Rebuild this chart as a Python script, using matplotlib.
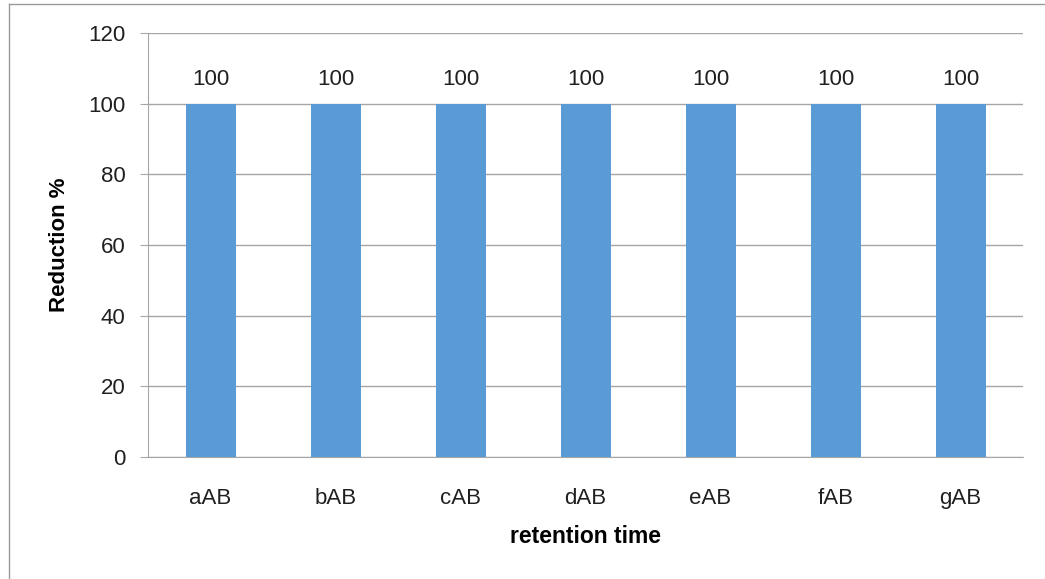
import matplotlib
matplotlib.use("Agg")
import matplotlib.pyplot as plt
from matplotlib.lines import Line2D

categories = ["aAB", "bAB", "cAB", "dAB", "eAB", "fAB", "gAB"]
reduction = [100, 100, 100, 100, 100, 100, 100]
y_ticks = [0, 20, 40, 60, 80, 100, 120]

plt.rcParams["font.family"] = ["Liberation Sans", "DejaVu Sans"]

fig = plt.figure(figsize=(10.45, 5.79), dpi=100, facecolor="white")
ax = fig.add_axes([148 / 1045, 1 - 457 / 579, 875 / 1045, 424 / 579])

grid_col = "#a6a6a6"
text_col = "#202020"
x = list(range(len(categories)))
ax.bar(x, reduction, width=0.4, color="#5b9bd5", zorder=3)

for xi, v in zip(x, reduction):
    ax.annotate(f"{v}", (xi, v), xytext=(0, 13.5), textcoords="offset points",
                ha="center", va="baseline", fontsize=16, color=text_col)

ax.set_xlim(-0.5, len(categories) - 0.5)
ax.set_ylim(0, 120)
ax.set_yticks(y_ticks)
ax.set_xticks(x)
ax.set_xticklabels(categories)
ax.yaxis.grid(True, color=grid_col, linewidth=1, zorder=0)
ax.set_axisbelow(True)

for side in ["top", "right"]:
    ax.spines[side].set_visible(False)
ax.spines["left"].set_color(grid_col)
ax.spines["bottom"].set_color(grid_col)

ax.tick_params(axis="y", length=5.8, color=grid_col, labelsize=16, pad=10.5, labelcolor=text_col)
ax.tick_params(axis="x", length=0, labelsize=16, pad=22, labelcolor=text_col)

ax.set_ylabel("Reduction %", fontsize=16, fontweight="bold", labelpad=13, color="black")
ax.set_xlabel("retention time", fontsize=16.5, fontweight="bold", labelpad=12, color="black")

# outer chart border (only left and top visible in the crop)
fig.add_artist(Line2D([9 / 1045, 9 / 1045], [0, 1 - 4 / 579], transform=fig.transFigure, color="#999999", lw=1))
fig.add_artist(Line2D([9 / 1045, 1], [1 - 4 / 579, 1 - 4 / 579], transform=fig.transFigure, color="#999999", lw=1))

fig.savefig("out.png", dpi=100)
